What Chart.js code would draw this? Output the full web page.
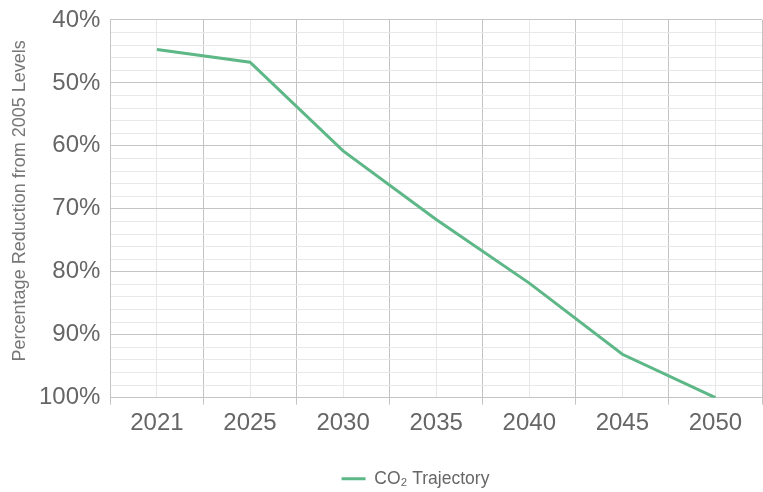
<!DOCTYPE html>
<html>
<head>
<meta charset="utf-8">
<script src="https://cdn.jsdelivr.net/npm/chart.js@4"></script>
<style>
  html, body { margin: 0; padding: 0; background: #ffffff; }
  #wrap { width: 763px; height: 492px; }
</style>
</head>
<body>
<div id="wrap"><canvas id="chart"></canvas></div>
<script>
// Emission reduction trajectory, percent below 2005 levels
const years = ['2021', '2025', '2030', '2035', '2040', '2045', '2050'];
const co2Reduction = [44.7, 46.7, 60.8, 71.7, 81.8, 93.1, 100];
const seriesLabel = 'CO\u2082 Trajectory';
const yTitle = 'Percentage Reduction from 2005 Levels';
const yMin = 40;
const yMax = 100;
const yStep = 2;

const FONT = "'Liberation Sans', Arial, sans-serif";
const MAJOR = '#c4c4c4';
const MINOR = '#e8e8e8';
const GREEN = '#5db787';

// Vertical axis title, drawn a little above the plot's middle
const axisTitle = {
  id: 'axisTitle',
  afterDraw(chart) {
    const { ctx, chartArea } = chart;
    ctx.save();
    ctx.translate(20.5, (chartArea.top + chartArea.bottom) / 2 - 8);
    ctx.rotate(-Math.PI / 2);
    ctx.textAlign = 'center';
    ctx.textBaseline = 'middle';
    ctx.font = '18px ' + FONT;
    ctx.fillStyle = '#777777';
    ctx.fillText(yTitle, 0, 0);
    ctx.restore();
  }
};

// Nudge the legend box towards the plot and down to the foot of the canvas
const legendNudge = {
  id: 'legendNudge',
  afterLayout(chart) {
    const lg = chart.legend;
    if (!lg) return;
    lg.left += 20; lg.right += 20;
    lg.top += 5.5; lg.bottom += 5.5;
  }
};

new Chart(document.getElementById('chart'), {
  type: 'line',
  data: {
    labels: years,
    datasets: [{
      label: seriesLabel,
      data: co2Reduction,
      borderColor: GREEN,
      backgroundColor: GREEN,
      borderWidth: 3,
      pointRadius: 0,
      tension: 0,
      xAxisID: 'x',
      yAxisID: 'y'
    }]
  },
  plugins: [axisTitle, legendNudge],
  options: {
    responsive: true,
    maintainAspectRatio: false,
    animation: false,
    layout: { padding: { top: 16, right: 1, bottom: 0, left: 29 } },
    plugins: {
      tooltip: { enabled: false },
      legend: {
        position: 'bottom',
        labels: {
          font: { family: FONT, size: 17.5 },
          color: '#666666',
          boxWidth: 24,
          boxHeight: 0,
          padding: 23
        }
      }
    },
    scales: {
      x: {
        type: 'category',
        offset: true,
        grid: {
          offset: true,
          color: MAJOR,
          lineWidth: 1,
          drawTicks: true,
          tickLength: 7,
          tickColor: MAJOR
        },
        border: { display: true, color: MAJOR },
        ticks: {
          font: { family: FONT, size: 24 },
          color: '#666666',
          padding: 4,
          maxRotation: 0,
          autoSkip: false
        }
      },
      xMid: {
        type: 'category',
        labels: years,
        position: 'top',
        offset: true,
        grid: { offset: false, color: MINOR, lineWidth: 1, drawTicks: false },
        border: { display: false },
        ticks: { display: false }
      },
      y: {
        type: 'linear',
        reverse: true,
        min: yMin,
        max: yMax,
        grid: {
          drawTicks: false,
          lineWidth: 1,
          color: (ctx) => (ctx.tick && ctx.tick.value % 10 === 0) ? MAJOR : MINOR
        },
        border: { display: true, color: MAJOR },
        ticks: {
          stepSize: yStep,
          autoSkip: false,
          padding: 10,
          font: { family: FONT, size: 24, lineHeight: 0.83 },
          color: '#666666',
          callback: (v) => (v % 10 === 0) ? v + '%' : ''
        }
      }
    }
  }
});
</script>
</body>
</html>
